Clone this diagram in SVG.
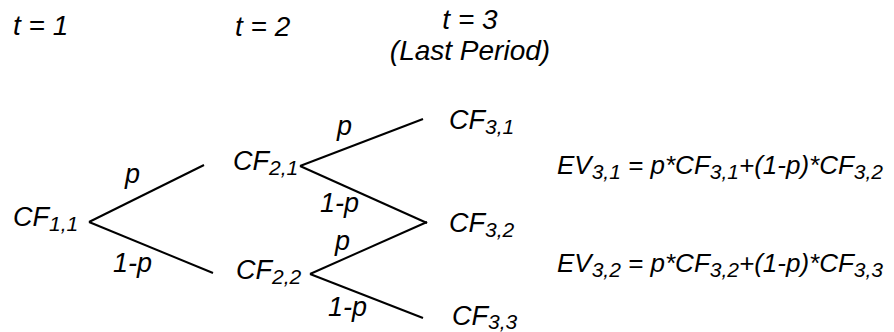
<svg xmlns="http://www.w3.org/2000/svg" width="894" height="332" viewBox="0 0 894 332">
<style>
text{font-family:"Liberation Sans",Arial,sans-serif;font-style:italic;font-size:27px;fill:#000}
.sub{font-size:21px}
.eq{font-size:26px}
.hdr{font-size:28px}
.edge{stroke:#000;stroke-width:2;fill:none}
</style>
<rect width="894" height="332" fill="#fff"/>
<g id="headers">
<text class="hdr" x="13" y="35">t = 1</text>
<text class="hdr" x="235" y="36">t = 2</text>
<text class="hdr" x="470" y="29" text-anchor="middle">t = 3</text>
<text class="hdr" x="470" y="60" text-anchor="middle">(Last Period)</text>
</g>
<g id="connectors">
<line class="edge" x1="89" y1="222" x2="204" y2="165"/>
<line class="edge" x1="89" y1="222" x2="213" y2="273"/>
<line class="edge" x1="300" y1="166" x2="423" y2="119"/>
<line class="edge" x1="300" y1="166" x2="427" y2="223"/>
<line class="edge" x1="310" y1="274" x2="427" y2="222"/>
<line class="edge" x1="310" y1="274" x2="423" y2="318"/>
<text x="125" y="183">p</text>
<text x="113" y="272">1-p</text>
<text x="337" y="135">p</text>
<text x="320" y="212">1-p</text>
<text x="335" y="250">p</text>
<text x="328" y="316">1-p</text>
</g>
<g id="cf11"><text x="13" y="226">CF<tspan class="sub" dy="5">1,1</tspan></text></g>
<g id="cf21"><text x="233" y="170">CF<tspan class="sub" dy="5">2,1</tspan></text></g>
<g id="cf22"><text x="236" y="279">CF<tspan class="sub" dy="5">2,2</tspan></text></g>
<g id="cf31"><text x="449" y="129">CF<tspan class="sub" dy="5">3,1</tspan></text></g>
<g id="cf32"><text x="449" y="232">CF<tspan class="sub" dy="5">3,2</tspan></text></g>
<g id="cf33"><text x="452" y="325">CF<tspan class="sub" dy="4">3,3</tspan></text></g>
<g id="ev31"><text class="eq" x="557" y="174">EV<tspan class="sub" dy="5">3,1</tspan><tspan dy="-5"> = p*CF</tspan><tspan class="sub" dy="5">3,1</tspan><tspan dy="-5">+(1-p)*CF</tspan><tspan class="sub" dy="5">3,2</tspan></text></g>
<g id="ev32"><text class="eq" x="557" y="272">EV<tspan class="sub" dy="5">3,2</tspan><tspan dy="-5"> = p*CF</tspan><tspan class="sub" dy="5">3,2</tspan><tspan dy="-5">+(1-p)*CF</tspan><tspan class="sub" dy="5">3,3</tspan></text></g>
</svg>
